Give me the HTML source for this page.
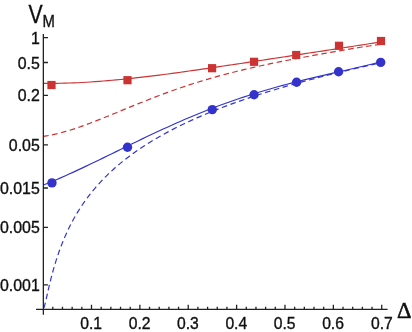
<!DOCTYPE html>
<html><head><meta charset="utf-8"><style>
html,body{margin:0;padding:0;background:#fff;}
svg{display:block;will-change:transform;font-family:"Liberation Sans",sans-serif;}
text{fill:#111;stroke:#111;stroke-width:0.35px;}
</style></head><body>
<svg width="412" height="332" viewBox="0 0 412 332">
<rect width="412" height="332" fill="#fff"/>
<path d="M43.50,136.37 L47.78,135.70 L52.07,134.88 L56.35,133.93 L60.64,132.86 L64.92,131.68 L69.21,130.41 L73.49,129.06 L77.78,127.63 L82.06,126.13 L86.35,124.57 L90.63,122.97 L94.92,121.32 L99.20,119.64 L103.49,117.93 L107.77,116.20 L112.06,114.45 L116.34,112.69 L120.63,110.93 L124.91,109.17 L129.20,107.41 L133.48,105.66 L137.77,103.92 L142.05,102.20 L146.34,100.50 L150.62,98.82 L154.91,97.16 L159.19,95.53 L163.47,93.92 L167.76,92.34 L172.04,90.80 L176.33,89.28 L180.61,87.80 L184.90,86.35 L189.18,84.93 L193.47,83.55 L197.75,82.20 L202.04,80.88 L206.32,79.60 L210.61,78.35 L214.89,77.13 L219.18,75.94 L223.46,74.78 L227.75,73.65 L232.03,72.55 L236.32,71.47 L240.60,70.43 L244.89,69.40 L249.17,68.40 L253.46,67.43 L257.74,66.47 L262.03,65.53 L266.31,64.61 L270.59,63.71 L274.88,62.83 L279.16,61.95 L283.45,61.10 L287.73,60.25 L292.02,59.42 L296.30,58.59 L300.59,57.78 L304.87,56.97 L309.16,56.17 L313.44,55.38 L317.73,54.60 L322.01,53.83 L326.30,53.06 L330.58,52.30 L334.87,51.55 L339.15,50.81 L343.44,50.08 L347.72,49.35 L352.01,48.65 L356.29,47.95 L360.58,47.27 L364.86,46.61 L369.15,45.97 L373.43,45.35 L377.72,44.76 L382.00,44.20" fill="none" stroke="#cc3333" stroke-width="1.2" stroke-dasharray="5.6 3.49" stroke-dashoffset="0.37"/>
<path d="M43.50,308.32 L43.59,308.22 L43.68,308.08 L43.78,307.92 L43.88,307.72 L43.98,307.48 L44.09,307.22 L44.19,306.92 L44.31,306.59 L44.42,306.22 L44.54,305.83 L44.66,305.40 L44.79,304.94 L44.92,304.45 L45.05,303.94 L45.19,303.39 L45.33,302.81 L45.48,302.21 L45.63,301.57 L45.78,300.91 L45.94,300.22 L46.10,299.50 L46.27,298.75 L46.45,297.98 L46.63,297.18 L46.81,296.35 L47.00,295.50 L47.20,294.63 L47.40,293.72 L47.61,292.80 L47.83,291.85 L48.05,290.87 L48.28,289.87 L48.51,288.85 L48.75,287.80 L49.00,286.73 L49.26,285.64 L49.52,284.53 L49.80,283.40 L50.08,282.24 L50.37,281.06 L50.66,279.86 L50.97,278.65 L51.29,277.41 L51.61,276.15 L51.95,274.87 L52.29,273.58 L52.65,272.26 L53.02,270.93 L53.40,269.58 L53.78,268.21 L54.19,266.82 L54.60,265.42 L55.03,264.00 L55.46,262.56 L55.92,261.11 L56.38,259.64 L56.86,258.15 L57.36,256.65 L57.86,255.13 L58.39,253.60 L58.93,252.06 L59.49,250.50 L60.06,248.93 L60.65,247.34 L61.26,245.74 L61.89,244.13 L62.53,242.50 L63.20,240.86 L63.88,239.21 L64.59,237.55 L65.32,235.88 L66.07,234.19 L66.84,232.50 L67.64,230.79 L68.45,229.07 L69.30,227.34 L70.17,225.60 L71.07,223.85 L71.99,222.10 L72.94,220.33 L73.92,218.55 L74.93,216.76 L75.97,214.97 L77.04,213.16 L78.14,211.35 L79.28,209.53 L80.45,207.70 L81.66,205.87 L82.90,204.02 L84.18,202.17 L85.50,200.31 L86.86,198.45 L88.26,196.57 L89.71,194.70 L91.19,192.81 L92.72,190.92 L94.30,189.02 L95.93,187.12 L97.60,185.21 L99.33,183.29 L101.10,181.37 L102.93,179.44 L104.82,177.51 L106.76,175.58 L108.76,173.63 L110.83,171.69 L112.95,169.74 L115.14,167.78 L117.39,165.82 L119.72,163.86 L122.11,161.89 L124.57,159.91 L127.11,157.93 L129.73,155.95 L132.43,153.97 L135.20,151.98 L138.06,149.98 L141.01,147.99 L144.05,145.99 L147.17,143.98 L150.40,141.97 L153.72,139.96 L157.14,137.95 L160.66,135.93 L164.29,133.90 L168.03,131.88 L171.88,129.85 L175.85,127.82 L179.94,125.78 L184.15,123.74 L188.49,121.70 L192.96,119.65 L197.57,117.60 L202.31,115.54 L207.20,113.49 L212.23,111.43 L217.42,109.36 L222.76,107.29 L228.27,105.22 L233.94,103.14 L239.79,101.06 L245.81,98.98 L252.01,96.89 L258.40,94.80 L264.98,92.70 L271.76,90.60 L278.74,88.49 L285.94,86.38 L293.36,84.27 L300.99,82.15 L308.86,80.02 L316.97,77.89 L325.32,75.75 L333.92,73.61 L342.79,71.46 L351.92,69.31 L361.32,67.15 L371.02,64.99 L381.00,62.81" fill="none" stroke="#3333cc" stroke-width="1.2" stroke-dasharray="5.6 3.55" stroke-dashoffset="8.75"/>
<path d="M43.50,83.34 L47.78,83.37 L52.07,83.38 L56.35,83.34 L60.64,83.28 L64.92,83.18 L69.21,83.05 L73.49,82.89 L77.78,82.70 L82.06,82.49 L86.35,82.25 L90.63,81.98 L94.92,81.69 L99.20,81.37 L103.49,81.04 L107.77,80.68 L112.06,80.30 L116.34,79.91 L120.63,79.49 L124.91,79.06 L129.20,78.61 L133.48,78.15 L137.77,77.67 L142.05,77.18 L146.34,76.67 L150.62,76.15 L154.91,75.62 L159.19,75.08 L163.47,74.52 L167.76,73.96 L172.04,73.39 L176.33,72.81 L180.61,72.22 L184.90,71.63 L189.18,71.03 L193.47,70.42 L197.75,69.81 L202.04,69.19 L206.32,68.57 L210.61,67.94 L214.89,67.31 L219.18,66.68 L223.46,66.04 L227.75,65.40 L232.03,64.76 L236.32,64.11 L240.60,63.47 L244.89,62.82 L249.17,62.17 L253.46,61.52 L257.74,60.87 L262.03,60.22 L266.31,59.57 L270.59,58.91 L274.88,58.26 L279.16,57.61 L283.45,56.96 L287.73,56.31 L292.02,55.65 L296.30,55.00 L300.59,54.35 L304.87,53.69 L309.16,53.04 L313.44,52.39 L317.73,51.74 L322.01,51.08 L326.30,50.43 L330.58,49.77 L334.87,49.11 L339.15,48.46 L343.44,47.80 L347.72,47.13 L352.01,46.47 L356.29,45.80 L360.58,45.14 L364.86,44.46 L369.15,43.79 L373.43,43.11 L377.72,42.43 L382.00,41.74" fill="none" stroke="#cc3333" stroke-width="1.15"/>
<path d="M43.50,184.93 L47.77,183.23 L52.04,181.48 L56.32,179.69 L60.59,177.85 L64.86,175.97 L69.13,174.06 L73.41,172.11 L77.68,170.14 L81.95,168.14 L86.22,166.12 L90.49,164.08 L94.77,162.02 L99.04,159.95 L103.31,157.88 L107.58,155.79 L111.85,153.70 L116.13,151.61 L120.40,149.52 L124.67,147.43 L128.94,145.34 L133.22,143.27 L137.49,141.20 L141.76,139.14 L146.03,137.10 L150.30,135.07 L154.58,133.06 L158.85,131.07 L163.12,129.10 L167.39,127.15 L171.66,125.22 L175.94,123.32 L180.21,121.44 L184.48,119.59 L188.75,117.77 L193.03,115.97 L197.30,114.20 L201.57,112.47 L205.84,110.76 L210.11,109.09 L214.39,107.44 L218.66,105.83 L222.93,104.25 L227.20,102.70 L231.47,101.18 L235.75,99.70 L240.02,98.25 L244.29,96.83 L248.56,95.44 L252.84,94.08 L257.11,92.75 L261.38,91.45 L265.65,90.18 L269.92,88.94 L274.20,87.73 L278.47,86.54 L282.74,85.38 L287.01,84.24 L291.28,83.13 L295.56,82.04 L299.83,80.96 L304.10,79.91 L308.37,78.87 L312.65,77.85 L316.92,76.84 L321.19,75.84 L325.46,74.85 L329.73,73.87 L334.01,72.90 L338.28,71.93 L342.55,70.95 L346.82,69.98 L351.09,69.00 L355.37,68.02 L359.64,67.02 L363.91,66.01 L368.18,64.99 L372.46,63.94 L376.73,62.88 L381.00,61.79" fill="none" stroke="#3333cc" stroke-width="1.15"/>
<rect x="47.40" y="80.90" width="8.2" height="8.2" fill="#cc3333"/>
<rect x="123.40" y="76.10" width="8.2" height="8.2" fill="#cc3333"/>
<rect x="208.00" y="64.10" width="8.2" height="8.2" fill="#cc3333"/>
<rect x="249.95" y="57.70" width="8.2" height="8.2" fill="#cc3333"/>
<rect x="292.10" y="50.90" width="8.2" height="8.2" fill="#cc3333"/>
<rect x="334.90" y="41.70" width="8.2" height="8.2" fill="#cc3333"/>
<rect x="376.90" y="36.90" width="8.2" height="8.2" fill="#cc3333"/>
<circle cx="51.95" cy="182.90" r="4.7" fill="#3333cc"/>
<circle cx="127.50" cy="147.30" r="4.7" fill="#3333cc"/>
<circle cx="212.30" cy="109.60" r="4.7" fill="#3333cc"/>
<circle cx="254.05" cy="94.80" r="4.7" fill="#3333cc"/>
<circle cx="296.60" cy="82.20" r="4.7" fill="#3333cc"/>
<circle cx="338.60" cy="71.70" r="4.7" fill="#3333cc"/>
<circle cx="380.70" cy="62.40" r="4.7" fill="#3333cc"/>
<path d="M43.35,34.0 V314.7 M36.0,309.4 H387.6" stroke="#222" stroke-width="1.3" fill="none"/>
<text x="39.8" y="43.85" text-anchor="end" font-size="15.9">1</text>
<text x="39.8" y="68.66" text-anchor="end" font-size="15.9">0.5</text>
<text x="39.8" y="101.45" text-anchor="end" font-size="15.9">0.2</text>
<text x="39.8" y="151.07" text-anchor="end" font-size="15.9">0.05</text>
<text x="39.8" y="194.16" text-anchor="end" font-size="15.9">0.015</text>
<text x="39.8" y="233.48" text-anchor="end" font-size="15.9">0.005</text>
<text x="39.8" y="291.08" text-anchor="end" font-size="15.9">0.001</text>
<text x="91.20" y="328.6" text-anchor="middle" font-size="15.7">0.1</text>
<text x="139.57" y="328.6" text-anchor="middle" font-size="15.7">0.2</text>
<text x="187.94" y="328.6" text-anchor="middle" font-size="15.7">0.3</text>
<text x="236.31" y="328.6" text-anchor="middle" font-size="15.7">0.4</text>
<text x="284.68" y="328.6" text-anchor="middle" font-size="15.7">0.5</text>
<text x="333.05" y="328.6" text-anchor="middle" font-size="15.7">0.6</text>
<text x="381.92" y="328.6" text-anchor="middle" font-size="15.7">0.7</text>
<path d="M43.35,37.70 h4.6 M43.35,62.51 h4.6 M43.35,95.30 h4.6 M43.35,144.92 h4.6 M43.35,188.01 h4.6 M43.35,227.33 h4.6 M43.35,284.93 h4.6 M52.80,309.4 v-2.7 M62.48,309.4 v-2.7 M72.15,309.4 v-2.7 M81.83,309.4 v-2.7 M91.50,309.4 v-4.6 M101.17,309.4 v-2.7 M110.85,309.4 v-2.7 M120.52,309.4 v-2.7 M130.20,309.4 v-2.7 M139.87,309.4 v-4.6 M149.54,309.4 v-2.7 M159.22,309.4 v-2.7 M168.89,309.4 v-2.7 M178.57,309.4 v-2.7 M188.24,309.4 v-4.6 M197.91,309.4 v-2.7 M207.59,309.4 v-2.7 M217.26,309.4 v-2.7 M226.94,309.4 v-2.7 M236.61,309.4 v-4.6 M246.28,309.4 v-2.7 M255.96,309.4 v-2.7 M265.63,309.4 v-2.7 M275.31,309.4 v-2.7 M284.98,309.4 v-4.6 M294.65,309.4 v-2.7 M304.33,309.4 v-2.7 M314.00,309.4 v-2.7 M323.68,309.4 v-2.7 M333.35,309.4 v-4.6 M343.02,309.4 v-2.7 M352.70,309.4 v-2.7 M362.37,309.4 v-2.7 M372.05,309.4 v-2.7 M381.72,309.4 v-4.6 " stroke="#222" stroke-width="1.3" fill="none"/>
<text transform="translate(28.6,22.5) scale(0.85,1)" font-size="25">V</text>
<text transform="translate(42.4,26.9) scale(0.9,1)" font-size="16.5">M</text>
<text transform="translate(396.9,318.1) scale(1.0,1)" font-size="22.5" font-family="Liberation Serif" style="stroke-width:0.55px">Δ</text>
</svg>
</body></html>
